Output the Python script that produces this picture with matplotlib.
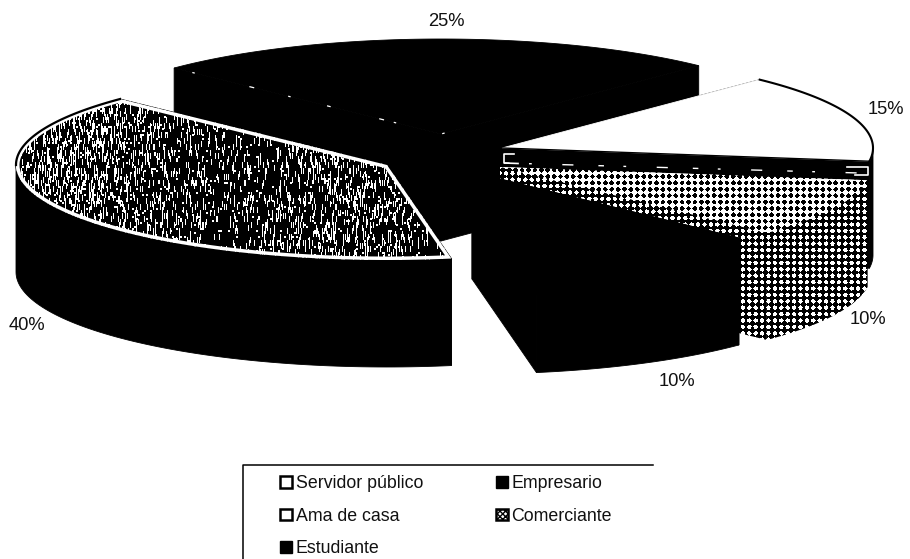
import numpy as np
import matplotlib
matplotlib.use("Agg")
import matplotlib.pyplot as plt
from matplotlib.patches import Patch, Polygon

plt.rcParams['font.family'] = ['Liberation Sans', 'DejaVu Sans']

categories = ["Servidor público", "Empresario", "Ama de casa", "Comerciante", "Estudiante"]
values = [40, 25, 15, 10, 10]
label_xy = [(27, 326), (446, 21), (886, 110), (868, 320), (677, 381)]

# canvas is laid out in pixels, y pointing down
W, H = 910, 559
RX, RY = 371, 95
DEPTH = 107
START = 80
apexes = [(387, 165), (441, 134), (502, 148), (500, 167), (472, 172)]

yy, xx = np.mgrid[0:H, 0:W]


def grain_tex():
    # streaky speckle, repeats vertically over a few pixels
    g = np.sin(xx * 12.9898 + ((yy + 3 * (xx % 7)) // 6) * 78.233) * 43758.5453
    g = g - np.floor(g)
    g2 = np.sin((xx // 2) * 4.1414 + (yy // 2) * 33.77) * 9631.17
    g2 = g2 - np.floor(g2)
    dens = 0.20 + 0.06 * np.sin(xx / 45.0) - 0.0003 * (xx - 200)
    return ((g < dens) | (g2 < dens * 0.3)).astype(float)


def dots_tex(th):
    return ((np.cos(2 * np.pi * xx / 6.4) + np.cos(2 * np.pi * yy / 6.4)) / 2 > th).astype(float)


def arc(apex, t0, t1, dy=0):
    t = np.radians(np.linspace(t0, t1, 80))
    return np.column_stack([apex[0] + RX * np.cos(t), apex[1] + dy + RY * np.sin(t)])


def filled(ax, pts, z, color="black", tex=None):
    if tex is None:
        ax.add_patch(Polygon(pts, closed=True, fc=color, ec=color, lw=0.6, zorder=z))
    else:
        p = Polygon(pts, closed=True, fc="none", ec="none", transform=ax.transData)
        ax.add_patch(p)
        im = ax.imshow(tex, cmap="gray", vmin=0, vmax=1, extent=(0, W, H, 0),
                       interpolation="nearest", aspect="auto", zorder=z)
        im.set_clip_path(p)


def face(apex, t):
    edge = arc(apex, t, t, 0)[0]
    return [apex, tuple(edge), (edge[0], edge[1] + DEPTH), (apex[0], apex[1] + DEPTH)]


fig = plt.figure(figsize=(W / 100, H / 100), dpi=100)
ax = fig.add_axes([0, 0, 1, 1])

angles = START + np.concatenate([[0], np.cumsum(values)]) * 3.6
draw_order = [1, 2, 3, 0, 4]

for rank, i in enumerate(draw_order):
    t0, t1 = angles[i], angles[i + 1]
    apex = apexes[i]
    z = 2 + rank * 3
    side_tex = dots_tex(0.18) if i == 3 else None

    # cut faces, then outer wall, then the top
    filled(ax, face(apex, t0), z, tex=side_tex)
    filled(ax, face(apex, t1), z, tex=side_tex)
    vis0 = t0 if t0 % 360 < 180 else (360 if t1 > 360 else None)
    if vis0 is not None:
        vis1 = min(t1, 180) if t1 < 360 and t0 < 180 else t1
        wall = np.vstack([arc(apex, vis0, vis1), arc(apex, vis1, vis0, DEPTH)])
        filled(ax, wall, z + 0.5, tex=side_tex)

    top = np.vstack([[apex], arc(apex, t0, t1)])
    if i == 0:
        filled(ax, top, z + 1, tex=grain_tex())
        clip = Polygon(top, closed=True, fc="none", ec="white", lw=5, zorder=z + 1.2)
        ax.add_patch(clip)
        clip.set_clip_path(clip)
        back = arc(apex, 180, t1)
        ax.plot(back[:, 0], back[:, 1], color="black", lw=1.6, zorder=z + 1.4)
    elif i == 1:
        filled(ax, top, z + 1)
        # faint radial edges showing through
        left, right = arc(apex, t0, t0)[0], arc(apex, t1, t1)[0]
        ax.plot([left[0], apex[0]], [left[1], apex[1]], color="white", lw=0.9, zorder=z + 1.2,
                ls=(6, (5, 16, 2, 45, 4, 28, 2, 30, 3, 40, 4, 8, 2, 60)))
        ax.plot([apex[0], right[0]], [apex[1], right[1]], color="white", lw=0.9, zorder=z + 1.2,
                ls=(40, (3, 6, 2, 30, 2, 300)))
    elif i == 2:
        filled(ax, top, z + 1, color="white")
        rim = arc(apex, t0, t1)
        ax.plot(rim[:, 0], rim[:, 1], color="black", lw=1.5, zorder=z + 1.2)
        ax.plot([apex[0], rim[-1, 0]], [apex[1], rim[-1, 1]], color="black", lw=1.0, zorder=z + 1.2)
        # broken light line along the bottom of the cut face
        e = rim[-1]
        ax.plot([apex[0] + 2, e[0] - 2], [apex[1] + 15, e[1] + 12], color="white", lw=1.0,
                zorder=z + 0.8, ls=(0, (4, 14, 2, 22, 8, 18)))
        ax.plot([apex[0] + 12, apex[0] + 2, apex[0] + 2, apex[0] + 16],
                [apex[1] + 6, apex[1] + 6, apex[1] + 15, apex[1] + 15.5],
                color="white", lw=1.2, zorder=z + 0.9)
        ax.plot([e[0] - 22, e[0] - 1, e[0] - 1, e[0] - 14],
                [e[1] + 6, e[1] + 6, e[1] + 14, e[1] + 14],
                color="white", lw=1.2, zorder=z + 0.9)
    elif i == 3:
        filled(ax, top, z + 1, tex=dots_tex(-0.12))
    else:
        filled(ax, top, z + 1)

for v, (x, y) in zip(values, label_xy):
    ax.text(x, y, f"{v}%", ha="center", va="center", fontsize=13.2, color="#111111", zorder=30)

# legend: only the upper and left rules of the box are there
ax.plot([243, 243, 653], [559, 465, 465], color="black", lw=1.1, zorder=30)

swatches = [
    Patch(fc="white", ec="black", lw=1.8),
    Patch(fc="black", ec="black", lw=1.0),
    Patch(fc="white", ec="black", lw=1.8),
    Patch(fc="white", ec="black", lw=1.8, hatch="xxxxxx"),
    Patch(fc="black", ec="black", lw=1.0),
]
col_first = [0, 2, 4, 1, 3]
ax.legend([swatches[k] for k in col_first], [categories[k] for k in col_first],
          ncol=2, frameon=False, loc="upper left", bbox_to_anchor=(280, 475),
          bbox_transform=ax.transData, fontsize=12.8, borderpad=0, borderaxespad=0,
          handlelength=0.68, handleheight=0.62, handletextpad=0.2, labelspacing=0.885,
          columnspacing=4.1, labelcolor="#111111")

ax.set_xlim(0, W)
ax.set_ylim(H, 0)
ax.axis("off")
fig.savefig("out.png", dpi=100, facecolor="white")
